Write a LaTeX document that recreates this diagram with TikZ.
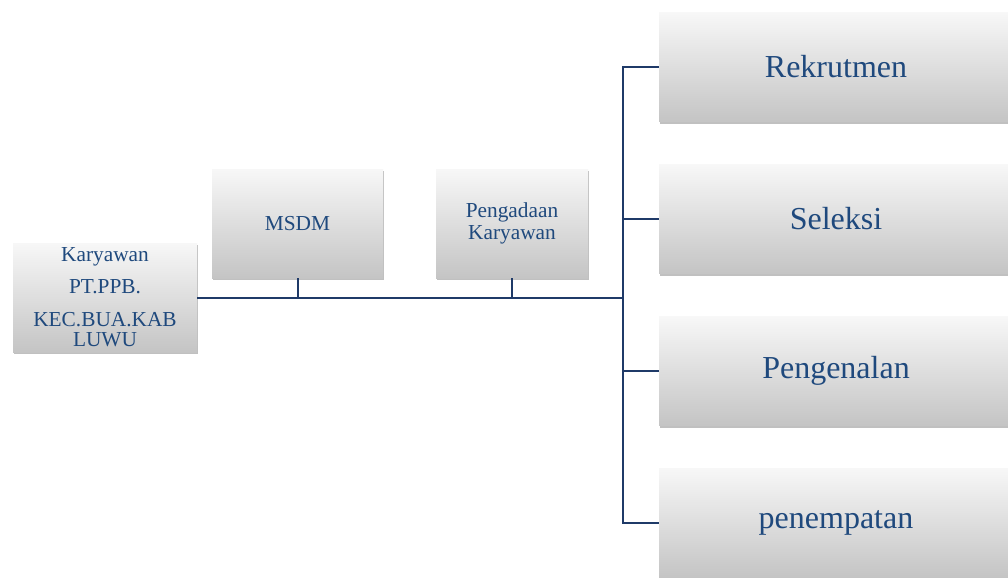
\documentclass[tikz,border=0pt]{standalone}
\usepackage{fontspec}
\setmainfont{Liberation Serif}
\usetikzlibrary{shadows}
\definecolor{txtblue}{HTML}{1F497D}
\definecolor{linenavy}{HTML}{1F3A68}
\tikzset{
  box/.style={shade, top color=black!3, bottom color=black!23, inner sep=2pt,
    text=txtblue, align=center,
    drop shadow={opacity=0.35, shadow xshift=0.6pt, shadow yshift=-1.6pt, fill=black!70}},
  smallbox/.style={box, font=\fontsize{16}{16.5}\selectfont, minimum height=81.75pt},
  bigbox/.style={box, font=\fontsize{24}{28}\selectfont, minimum width=265.5pt, minimum height=81.75pt},
  conn/.style={draw=linenavy, line width=1.5pt}
}
\begin{document}
\begin{tikzpicture}[x=0.75pt,y=-0.75pt]
\useasboundingbox[fill=white] (0,0) rectangle (1008,578);
\node[smallbox, minimum width=138pt] (kar) at (105,297.5)
  {Karyawan\\[7.5pt]PT.PPB.\\[8pt]KEC.BUA.KAB\\[-1pt]LUWU};
\node[smallbox, minimum width=128.25pt] (msdm) at (297.5,223.5) {MSDM};
\node[smallbox, minimum width=114pt] (pa) at (512,223.5) {Pengadaan\\Karyawan};
\node[bigbox] (rek) at (836,67) {Rekrutmen};
\node[bigbox] (sel) at (836,219) {Seleksi};
\node[bigbox] (peng) at (836,371) {Pengenalan};
\node[bigbox] (pen) at (836,522.5) {penempatan};
\coordinate (trunk) at (623,297.5);
\draw[conn] (rek.west) -- (rek.west -| trunk) -- (pen.west -| trunk) -- (pen.west);
\draw[conn] (sel.west) -- (sel.west -| trunk);
\draw[conn] (peng.west) -- (peng.west -| trunk);
\draw[conn] (kar.east) -- (kar.east -| trunk);
\draw[conn] (msdm.south) -- (msdm.south |- kar.east);
\draw[conn] (pa.south) -- (pa.south |- kar.east);
\end{tikzpicture}
\end{document}
